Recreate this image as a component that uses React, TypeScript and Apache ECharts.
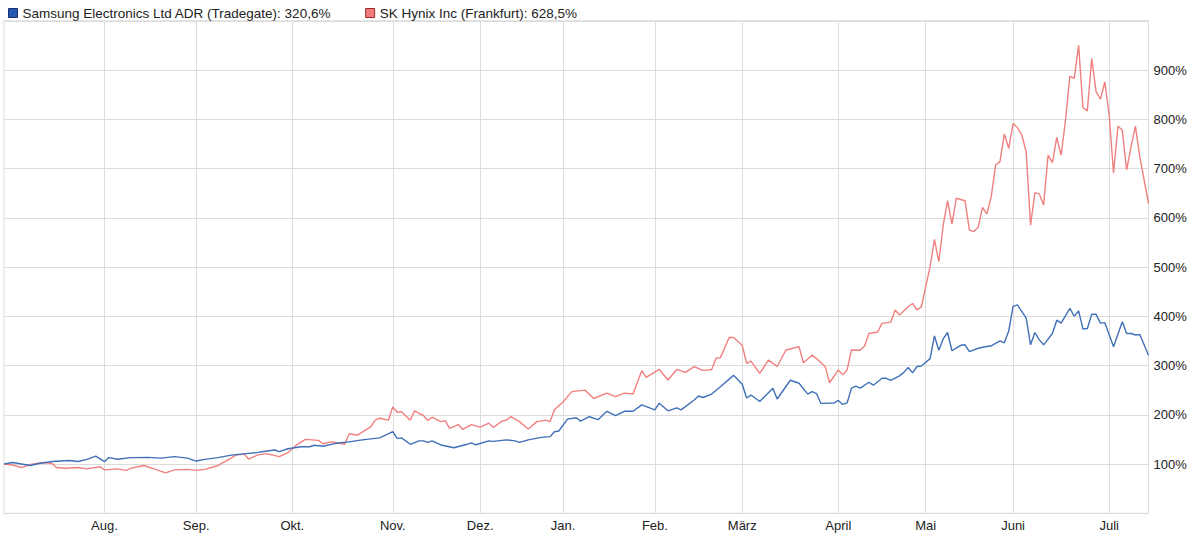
import React, { useEffect, useRef } from "react";
import * as echarts from "echarts";

// ---- data ----
const TRADING_DAYS = 263;
const MONTH_LABELS = ["Aug.", "Sep.", "Okt.", "Nov.", "Dez.", "Jan.", "Feb.", "März", "April", "Mai", "Juni", "Juli"];
const MONTH_START_INDEX = [23, 44, 66, 89, 109, 128, 149, 169, 191, 211, 231, 253];
const Y_TICKS = [100, 200, 300, 400, 500, 600, 700, 800, 900];

const SAMSUNG_NAME = "Samsung Electronics Ltd ADR (Tradegate): 320,6%";
const HYNIX_NAME = "SK Hynix Inc (Frankfurt): 628,5%";

const SAMSUNG_IDX = [0, 2, 6, 8, 11, 14, 15, 17, 19, 21, 23, 24, 26, 29, 33, 36, 39, 42, 44, 46, 49, 52, 56, 58, 59, 62, 63, 65, 68, 70, 71, 73, 76, 79, 82, 86, 89, 90, 91, 93, 95, 96, 97, 98, 100, 103, 106, 107, 108, 111, 112, 115, 117, 118, 120, 123, 125, 126, 127, 129, 131, 132, 134, 136, 138, 140, 142, 144, 146, 149, 150, 152, 154, 155, 158, 159, 160, 162, 164, 167, 169, 170, 171, 173, 176, 177, 180, 182, 184, 185, 186, 187, 190, 191, 192, 193, 194, 195, 196, 198, 199, 201, 202, 203, 205, 206, 207, 208, 209, 210, 212, 213, 214, 215, 216, 217, 219, 220, 221, 223, 224, 226, 228, 229, 230, 231, 232, 234, 235, 236, 237, 238, 240, 241, 242, 244, 245, 246, 247, 248, 249, 250, 251, 252, 254, 256, 257, 258, 259, 260, 262];
const SAMSUNG_VAL = [100, 103, 97, 101, 105, 106.6, 107, 105, 109.5, 116, 104.7, 113, 109.6, 113, 113.5, 112, 115, 112, 106, 109.5, 113, 118, 121.6, 123, 125, 128.4, 125, 131, 135, 135, 138, 136, 142, 145, 149, 153, 165.6, 152, 153, 140, 147, 147, 144, 147, 138.6, 133, 140, 143, 139, 147, 146, 149, 147, 144, 149, 154, 155.6, 165.6, 167, 191, 194, 187, 196, 190, 207, 198, 207, 207, 220, 210, 223.5, 208, 214, 210, 230, 238, 235, 242, 257, 280, 262, 234, 240, 227, 254, 232, 270, 264, 242, 247, 243, 223, 224, 229, 221, 224, 254, 258, 254, 266, 260, 274, 274, 270, 279, 286, 296, 285, 298, 299, 314, 360, 331, 354, 367, 330, 341, 342, 328, 335, 337, 340, 350, 346, 370, 420, 423, 396, 342, 367, 352, 342, 365, 392, 386, 416, 400, 411, 374, 375, 404, 404, 386, 387, 338, 389, 365, 365, 362, 363, 320.6];

const HYNIX_IDX = [0, 2, 4, 6, 9, 11, 12, 14, 17, 19, 22, 23, 26, 28, 29, 32, 34, 37, 39, 42, 44, 46, 49, 52, 53, 55, 56, 58, 60, 63, 65, 67, 69, 72, 73, 75, 78, 79, 81, 84, 85, 86, 88, 89, 90, 91, 93, 94, 95, 96, 97, 98, 100, 101, 102, 104, 105, 107, 109, 111, 112, 114, 115, 116, 118, 120, 122, 124, 125, 126, 128, 130, 133, 135, 138, 140, 142, 144, 146, 147, 150, 152, 154, 156, 158, 160, 162, 163, 164, 166, 167, 169, 170, 171, 173, 175, 177, 179, 182, 183, 185, 186, 188, 189, 191, 192, 193, 194, 196, 197, 198, 200, 201, 203, 204, 205, 207, 208, 209, 210, 212, 213, 214, 215, 216, 217, 218, 220, 221, 222, 223, 224, 225, 226, 227, 228, 229, 230, 231, 232, 233, 234, 235, 236, 237, 238, 239, 240, 241, 242, 243, 244, 245, 246, 247, 248, 249, 250, 251, 252, 253, 254, 255, 256, 257, 258, 259, 260, 262];
const HYNIX_VAL = [100, 98, 92.5, 99, 103, 101, 93, 91.4, 93, 90, 94.5, 88, 90, 87, 91, 97, 91, 82, 88, 89, 87, 89, 97, 112, 118, 120, 110, 118, 121, 115, 123, 139, 150, 148, 141, 145, 140, 161, 159, 176, 189, 193, 189, 216, 205, 206, 189, 208, 203, 199, 188, 195, 186, 188, 172.5, 180, 170.5, 180, 175, 183, 174, 187, 189, 196, 186, 171, 186, 189, 186, 210, 226.5, 247, 250, 233, 244, 237, 244, 242, 289.5, 276, 292, 270.5, 292, 286, 297.6, 290, 292, 314.6, 316, 357, 357, 341, 304.5, 309, 284, 311, 298, 331.5, 338, 305.7, 321, 314, 297.6, 265, 291, 281, 291, 331.5, 331, 339.6, 365, 368, 385.6, 388, 412.7, 402.6, 419.4, 426, 412.7, 419, 500.6, 556, 510.8, 585, 634.6, 587, 639.5, 634.6, 575, 572, 580.6, 621, 608, 642.7, 707, 714, 770, 741, 791.8, 783, 768, 734, 585, 651, 648, 626, 727, 712, 763, 727, 798, 887.5, 883, 950, 824, 817, 923.6, 856, 840.6, 876, 808.6, 691, 786, 778, 697, 744, 786, 724, 628.5];

const FONT = "'Liberation Sans', Arial, sans-serif";

export default function App() {
  const ref = useRef<HTMLDivElement>(null);

  useEffect(() => {
    if (!ref.current) return;
    const chart = echarts.init(ref.current, null, { renderer: "svg" });

    const categories = Array.from({ length: TRADING_DAYS }, (_, i) => {
      const k = MONTH_START_INDEX.indexOf(i);
      return k >= 0 ? MONTH_LABELS[k] : "";
    });
    const isMonthStart = (i: number) => MONTH_START_INDEX.indexOf(i) >= 0;
    const samsung = SAMSUNG_IDX.map((d, i) => [d, SAMSUNG_VAL[i]]);
    const hynix = HYNIX_IDX.map((d, i) => [d, HYNIX_VAL[i]]);

    chart.setOption({
      animation: false,
      textStyle: { fontFamily: FONT },
      legend: {
        left: 3,
        top: 1,
        icon: "rect",
        itemWidth: 9,
        itemHeight: 9,
        itemGap: 34,
        textStyle: { fontSize: 13.5, color: "#222", fontFamily: FONT },
        data: [
          { name: SAMSUNG_NAME, itemStyle: { color: "#2458b0", borderColor: "#14306a", borderWidth: 1 } },
          { name: HYNIX_NAME, itemStyle: { color: "#f27b7b", borderColor: "#9a2a2a", borderWidth: 1 } },
        ],
      },
      grid: {
        left: 4,
        right: 51.5,
        top: 20.75,
        bottom: 20.75,
        show: true,
        borderColor: "#dcdcdc",
        borderWidth: 1,
      },
      xAxis: {
        type: "category",
        data: categories,
        boundaryGap: false,
        axisLine: { show: false },
        axisTick: { show: false },
        axisLabel: {
          interval: (i: number) => isMonthStart(i),
          fontSize: 13,
          color: "#222",
          margin: 6,
          fontFamily: FONT,
        },
        splitLine: {
          show: true,
          interval: (i: number) => isMonthStart(i),
          lineStyle: { color: "#dcdcdc", width: 1 },
        },
      },
      yAxis: {
        type: "value",
        position: "right",
        min: 0,
        max: 1000,
        interval: 100,
        axisLine: { show: false },
        axisTick: { show: false },
        axisLabel: {
          fontSize: 13,
          color: "#222",
          margin: 5,
          fontFamily: FONT,
          formatter: (v: number) => (Y_TICKS.indexOf(v) >= 0 ? v + "%" : ""),
        },
        splitLine: { lineStyle: { color: "#dcdcdc", width: 1 } },
      },
      series: [
        {
          name: SAMSUNG_NAME,
          type: "line",
          data: samsung,
          showSymbol: false,
          symbol: "none",
          itemStyle: { color: "#2458b0" },
          lineStyle: { color: "#4070b8", width: 1.4 },
          z: 3,
        },
        {
          name: HYNIX_NAME,
          type: "line",
          data: hynix,
          showSymbol: false,
          symbol: "none",
          itemStyle: { color: "#f27b7b" },
          lineStyle: { color: "#f08080", width: 1.4 },
          z: 2,
        },
      ],
    });

    return () => chart.dispose();
  }, []);

  return (
    <div
      ref={ref}
      style={{ position: "fixed", left: 0, top: 0, width: 1200, height: 534, background: "#fff" }}
    />
  );
}
